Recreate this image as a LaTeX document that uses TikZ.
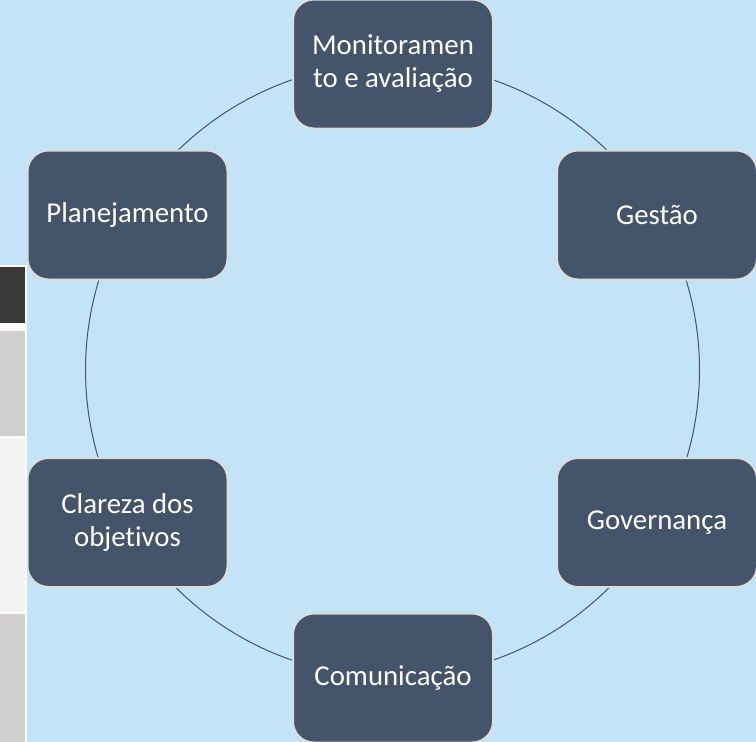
\documentclass[tikz,border=0pt]{standalone}
\usepackage{fontspec}
\setmainfont{Carlito}[Ligatures=NoCommon]
\definecolor{bgblue}{HTML}{C3E4F6}
\definecolor{boxfill}{HTML}{44546A}
\definecolor{boxline}{HTML}{DCDCDC}
\definecolor{celldark}{HTML}{3A3838}
\definecolor{cellgrey}{HTML}{D0CECE}
\definecolor{celllight}{HTML}{F2F2F2}
\begin{document}
\begin{tikzpicture}[x=1pt,y=-1pt,
  stepbox/.style={draw=boxline, line width=2pt, fill=boxfill, rounded corners=21pt,
    minimum width=200pt, minimum height=129pt, align=center, text=white,
    font=\fontsize{28.8}{33}\selectfont, inner sep=0pt},
  ring/.style={draw=boxfill, line width=1pt}]
\useasboundingbox (0,0) rectangle (756,742);
\fill[bgblue] (0,0) rectangle (756,742);
% left table strip
\fill[white] (0,265) rectangle (27,742);
\fill[celldark] (0,267) rectangle (24.5,323);
\fill[cellgrey] (0,331) rectangle (24.5,436);
\fill[celllight] (0,439) rectangle (24.5,611);
\fill[cellgrey] (0,614) rectangle (24.5,742);
% ring
\coordinate (ctr) at (392.5,370);
\draw[ring] (ctr) circle[radius=307pt];
% boxes
\node[stepbox] (mon) at (393,64) {Monitoramen\\to e avaliação};
\node[stepbox] (ges) at (657,215) {Gestão};
\node[stepbox] (gov) at (657,522.5) {Governança};
\node[stepbox] (com) at (393,678) {Comunicação};
\node[stepbox] (cla) at (127.5,522.5) {Clareza dos\\objetivos};
\node[stepbox] (pla) at (127.5,215) {Planejamento};
\end{tikzpicture}
\end{document}
